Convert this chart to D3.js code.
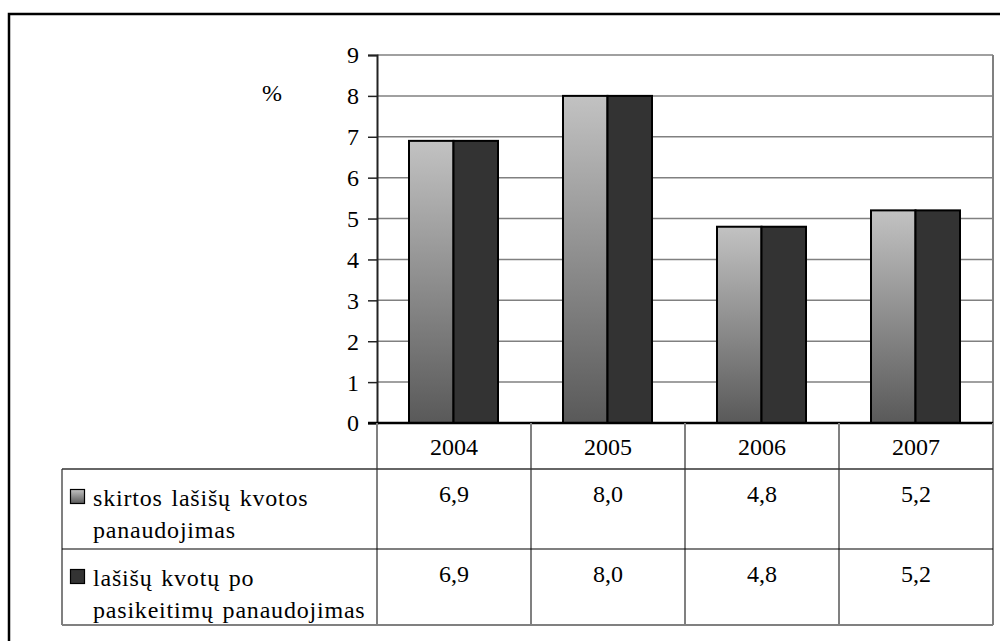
<!DOCTYPE html>
<html>
<head>
<meta charset="utf-8">
<script src="https://cdn.jsdelivr.net/npm/d3@7"></script>
</head>
<body style="margin:0;background:#fff">
<svg id="chart" width="1000" height="641" font-family="Liberation Serif" style="display:block;font-family:'Liberation Serif','Times New Roman',serif"></svg>
<script>
const years = ["2004", "2005", "2006", "2007"];
const seriesLabelLines = [["skirtos lašišų kvotos", "panaudojimas"], ["lašišų kvotų po", "pasikeitimų panaudojimas"]];
const allocated = [6.9, 8.0, 4.8, 5.2];
const afterChanges = [6.9, 8.0, 4.8, 5.2];
const yTicks = [0, 1, 2, 3, 4, 5, 6, 7, 8, 9];
const yLabel = "%";

const seriesValues = [allocated, afterChanges];
const fmt = v => v.toFixed(1).replace(".", ",");
const FONT = "'Liberation Serif', 'Times New Roman', serif";

const svg = d3.select("#chart");
const defs = svg.append("defs");
const grad = defs.append("linearGradient").attr("id", "lightGrad")
  .attr("x1", 0).attr("y1", 0).attr("x2", 0).attr("y2", 1);
grad.append("stop").attr("offset", "0%").attr("stop-color", "#c2c2c2");
grad.append("stop").attr("offset", "100%").attr("stop-color", "#595959");
const fills = ["url(#lightGrad)", "#333333"];

const plot = { left: 377, right: 993, top: 55, bottom: 423 };
const table = { left: 62, headerBottom: 469, rowBottoms: [549, 625] };

function txt(sel) {
  return sel.attr("font-family", "Liberation Serif").attr("font-size", 24)
    .style("font-family", FONT).style("font-size", "24px").attr("fill", "#000");
}

// outer frame (open on right and bottom)
svg.append("path")
  .attr("d", `M9,645 L9,14 L1005,14`)
  .attr("fill", "none").attr("stroke", "#000").attr("stroke-width", 2.5);

const x0 = d3.scaleBand().domain(years).range([plot.left, plot.right]).padding(0);
const x1 = d3.scaleBand().domain(d3.range(seriesValues.length))
  .range([32, x0.bandwidth() - 33]).padding(0);
const y = d3.scaleLinear().domain([0, 9]).range([plot.bottom, plot.top]);

// gridlines
svg.append("g").selectAll("line").data(yTicks.filter(t => t > 0)).join("line")
  .attr("x1", plot.left).attr("x2", plot.right)
  .attr("y1", d => y(d)).attr("y2", d => y(d))
  .attr("stroke", "#808080").attr("stroke-width", 1.5);

// right plot border
svg.append("line").attr("x1", plot.right).attr("x2", plot.right)
  .attr("y1", plot.top).attr("y2", plot.bottom)
  .attr("stroke", "#808080").attr("stroke-width", 2);

// bars
const groups = svg.append("g").selectAll("g").data(years).join("g")
  .attr("transform", d => `translate(${x0(d)},0)`);
groups.selectAll("rect").data((d, i) => seriesValues.map((s, k) => ({ k, v: s[i] }))).join("rect")
  .attr("x", d => x1(d.k))
  .attr("width", x1.bandwidth())
  .attr("y", d => y(d.v))
  .attr("height", d => y(0) - y(d.v))
  .attr("fill", d => fills[d.k])
  .attr("stroke", "#000").attr("stroke-width", 2);

// y axis
const yAxis = d3.axisLeft(y).tickValues(yTicks).tickSize(9).tickPadding(9).tickFormat(d3.format("d"));
const ya = svg.append("g").attr("transform", `translate(${plot.left},0)`).call(yAxis)
  .attr("font-family", "Liberation Serif").attr("font-size", 24);
ya.select(".domain").attr("stroke", "#222").attr("stroke-width", 2);
ya.selectAll(".tick line").attr("stroke", "#222").attr("stroke-width", 1.5);
txt(ya.selectAll(".tick text")).attr("dy", "0.33em");

// zero line
svg.append("line").attr("x1", plot.left - 9).attr("x2", plot.right)
  .attr("y1", y(0)).attr("y2", y(0)).attr("stroke", "#000").attr("stroke-width", 2.5);

// % label
txt(svg.append("text").attr("x", 272).attr("y", 101).attr("text-anchor", "middle")).text(yLabel);

// data table
const tg = svg.append("g");
const colEdges = years.map(d => x0(d)).concat([plot.right]);
tg.selectAll("line.v").data(colEdges).join("line").attr("class", "v")
  .attr("x1", d => d).attr("x2", d => d)
  .attr("y1", plot.bottom).attr("y2", table.rowBottoms[1])
  .attr("stroke", "#808080").attr("stroke-width", 2);
tg.append("line").attr("x1", table.left).attr("x2", table.left)
  .attr("y1", table.headerBottom).attr("y2", table.rowBottoms[1])
  .attr("stroke", "#808080").attr("stroke-width", 2);
tg.append("line").attr("x1", table.left).attr("x2", plot.right)
  .attr("y1", table.headerBottom).attr("y2", table.headerBottom)
  .attr("stroke", "#333").attr("stroke-width", 1.5);
tg.append("line").attr("x1", table.left).attr("x2", plot.right)
  .attr("y1", table.rowBottoms[0]).attr("y2", table.rowBottoms[0])
  .attr("stroke", "#000").attr("stroke-width", 1.2);
tg.append("line").attr("x1", table.left).attr("x2", plot.right)
  .attr("y1", table.rowBottoms[1]).attr("y2", table.rowBottoms[1])
  .attr("stroke", "#808080").attr("stroke-width", 2);

// year headers
txt(tg.selectAll("text.year").data(years).join("text").attr("class", "year")
  .attr("x", d => x0(d) + x0.bandwidth() / 2).attr("y", 455)
  .attr("text-anchor", "middle")).text(d => d);

// rows
const rowTops = [table.headerBottom, table.rowBottoms[0]];
seriesValues.forEach((vals, k) => {
  const top = rowTops[k];
  txt(tg.selectAll(`text.val${k}`).data(vals).join("text").attr("class", `val${k}`)
    .attr("x", (d, i) => x0(years[i]) + x0.bandwidth() / 2).attr("y", top + 33)
    .attr("text-anchor", "middle")).text(d => fmt(d));
  tg.append("rect").attr("x", 70.5).attr("y", top + 20.5).attr("width", 14).attr("height", 14)
    .attr("fill", fills[k]).attr("stroke", "#000").attr("stroke-width", 1.2);
  const t = txt(tg.append("text").attr("x", 93).attr("y", top + 37))
    .style("letter-spacing", "0.8px").style("word-spacing", "2px");
  seriesLabelLines[k].forEach((line, j) => {
    t.append("tspan").attr("x", 93).attr("dy", j === 0 ? 0 : 32).text(line);
  });
});
</script>
</body>
</html>
